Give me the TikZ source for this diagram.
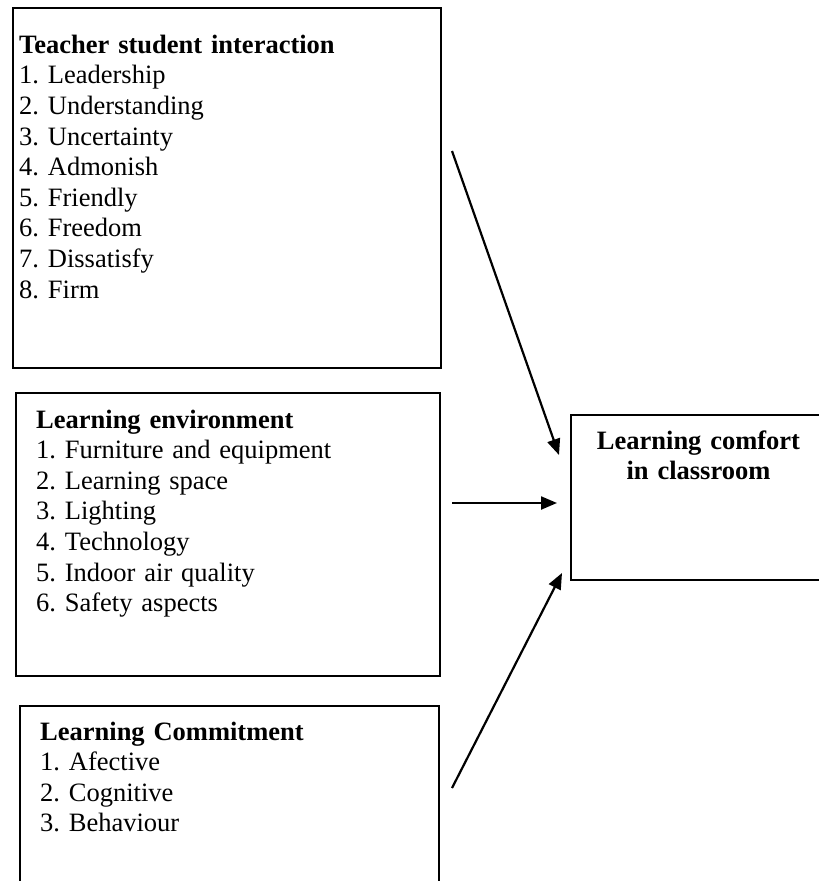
\documentclass[tikz,border=0pt]{standalone}
\usepackage{fontspec}
\setmainfont{Liberation Serif}
\usetikzlibrary{arrows.meta}
\frenchspacing
\begin{document}
\begin{tikzpicture}[x=1pt,y=-1pt,
  frame/.style={draw=black,line width=2.2pt,rectangle,anchor=north west,inner sep=0pt},
  listtext/.style={anchor=base west,inner sep=0pt,align=left,text width=400pt,
    font=\frenchspacing\fontsize{26.5pt}{30.6pt}\selectfont},
  conn/.style={line width=2.2pt,-{Triangle[length=16pt,width=13pt]}}]
\useasboundingbox (0,0) rectangle (819,881);
\clip (0,0) rectangle (819,881);
% boxes
\node[frame,minimum width=428pt,minimum height=360pt] (b1) at (12,7) {};
\node[frame,minimum width=424pt,minimum height=283pt] (b2) at (15,392) {};
\node[frame,minimum width=419pt,minimum height=220pt] (b3) at (19,705) {};
\node[frame,minimum width=280pt,minimum height=165pt] (b4) at (570,414) {};
% texts
\node[listtext] (t1) at (19,53.3) {\textbf{Teacher student interaction}\\1. Leadership\\2. Understanding\\3. Uncertainty\\4. Admonish\\5. Friendly\\6. Freedom\\7. Dissatisfy\\8. Firm};
\node[listtext] (t2) at (36,428) {\textbf{Learning environment}\\1. Furniture and equipment\\2. Learning space\\3. Lighting\\4. Technology\\5. Indoor air quality\\6. Safety aspects};
\node[listtext] (t3) at (40,740) {\textbf{Learning Commitment}\\1. Afective\\2. Cognitive\\3. Behaviour};
\node[anchor=base,inner sep=0pt,align=center,text width=240pt,
  font=\frenchspacing\fontsize{26.5pt}{30pt}\selectfont\bfseries] (t4) at (698.5,449) {Learning comfort\\in classroom};
% connector endpoints
\coordinate (a1s) at (452,151);
\coordinate (a1e) at (559,455);
\coordinate (a2s) at (452,503);
\coordinate (a2e) at (557,503);
\coordinate (a3s) at (452,788);
\coordinate (a3e) at (562,573);
\draw[conn] (a1s) -- (a1e);
\draw[conn] (a2s) -- (a2e);
\draw[conn] (a3s) -- (a3e);
\end{tikzpicture}
\end{document}
